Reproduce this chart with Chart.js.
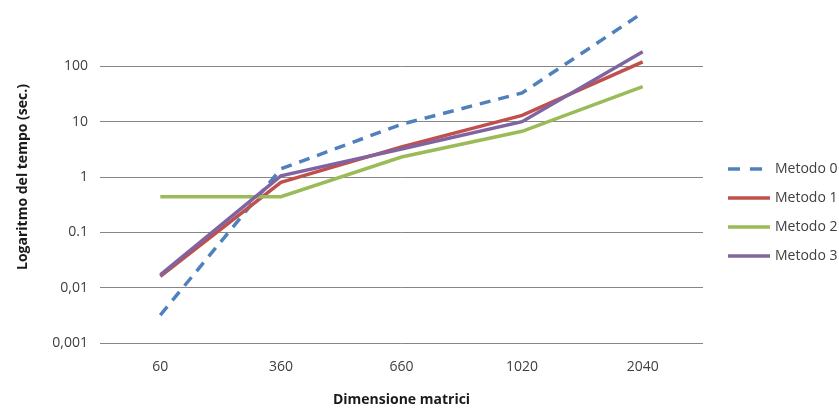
<!DOCTYPE html>
<html>
<head>
<meta charset="utf-8">
<script src="https://cdn.jsdelivr.net/npm/chart.js@4/dist/chart.umd.min.js"></script>
<style>
html,body{margin:0;padding:0;background:#fff;}
canvas{display:block;}
</style>
</head>
<body>
<canvas id="c" width="839" height="409"></canvas>
<script>
const categories = ['60', '360', '660', '1020', '2040'];
const metodo0 = [0.0032, 1.4, 9, 33, 930];
const metodo1 = [0.016, 0.8, 3.5, 13, 120];
const metodo2 = [0.44, 0.44, 2.3, 6.7, 43];
const metodo3 = [0.017, 1.05, 3.2, 10, 183];
const seriesNames = ['Metodo 0', 'Metodo 1', 'Metodo 2', 'Metodo 3'];
const yTickValues = [0.001, 0.01, 0.1, 1, 10, 100, 1000];
const yTickLabels = ['0,001', '0,01', '0.1', '1', '10', '100', ''];

const colors = ['#4F81BD', '#C0504D', '#9BBB59', '#8064A2'];
const seriesData = [metodo0, metodo1, metodo2, metodo3];
const FONT = '"Open Sans", "DejaVu Sans", sans-serif';

const datasets = seriesData.map((d, i) => ({
  label: seriesNames[i],
  data: d,
  borderColor: colors[i],
  backgroundColor: colors[i],
  borderWidth: 3.5,
  borderDash: i === 0 ? [11, 8] : [],
  pointRadius: 0,
  tension: 0,
  fill: false,
  order: 3 - i
}));

const legendPlugin = {
  id: 'sideLegend',
  afterDraw(chart) {
    const ctx = chart.ctx;
    ctx.save();
    chart.data.datasets.forEach((ds, i) => {
      const y = 169 + i * 29;
      ctx.beginPath();
      ctx.strokeStyle = ds.borderColor;
      ctx.lineWidth = 3.5;
      ctx.setLineDash(ds.borderDash && ds.borderDash.length ? [12, 10] : []);
      ctx.moveTo(728, y);
      ctx.lineTo(770, y);
      ctx.stroke();
      ctx.setLineDash([]);
      ctx.fillStyle = '#404040';
      ctx.font = '14px ' + FONT;
      ctx.textBaseline = 'middle';
      ctx.textAlign = 'left';
      ctx.fillText(ds.label, 775, y);
    });
    ctx.restore();
  }
};

new Chart(document.getElementById('c'), {
  type: 'line',
  data: { labels: categories, datasets: datasets },
  options: {
    responsive: false,
    animation: false,
    devicePixelRatio: 1,
    layout: { padding: { top: 11, right: 136, left: 0, bottom: 0 } },
    plugins: { legend: { display: false }, tooltip: { enabled: false } },
    scales: {
      x: {
        type: 'category',
        offset: true,
        grid: { display: false, drawTicks: false },
        border: { display: false },
        ticks: { padding: 16, color: '#404040', font: { family: FONT, size: 14 }, maxRotation: 0 },
        title: { display: true, text: 'Dimensione matrici', color: '#1a1a1a',
                 font: { family: FONT, size: 14, weight: 'bold' }, padding: { top: 0, bottom: 1 } },
        afterFit: s => { s.height = 66; s.paddingLeft = 0; s.paddingRight = 0; }
      },
      y: {
        type: 'logarithmic',
        min: 0.001,
        max: 1000,
        afterBuildTicks: s => { s.ticks = yTickValues.map(v => ({ value: v })); },
        grid: {
          drawTicks: false,
          lineWidth: 1,
          color: c => (c.tick && c.tick.value >= 1000) ? 'rgba(0,0,0,0)' : '#868686'
        },
        border: { display: false },
        ticks: {
          padding: 12,
          color: '#404040',
          font: { family: FONT, size: 14 },
          callback: (v) => {
            const idx = yTickValues.findIndex(t => Math.abs(t - v) / t < 1e-6);
            return idx >= 0 ? yTickLabels[idx] : '';
          }
        },
        title: { display: true, text: 'Logaritmo del tempo (sec.)', color: '#1a1a1a',
                 font: { family: FONT, size: 14, weight: 'bold' }, padding: { top: 15, bottom: 0 } },
        afterFit: s => { s.width = 100; s.paddingTop = 0; s.paddingBottom = 0; }
      }
    }
  },
  plugins: [legendPlugin]
});
</script>
</body>
</html>
